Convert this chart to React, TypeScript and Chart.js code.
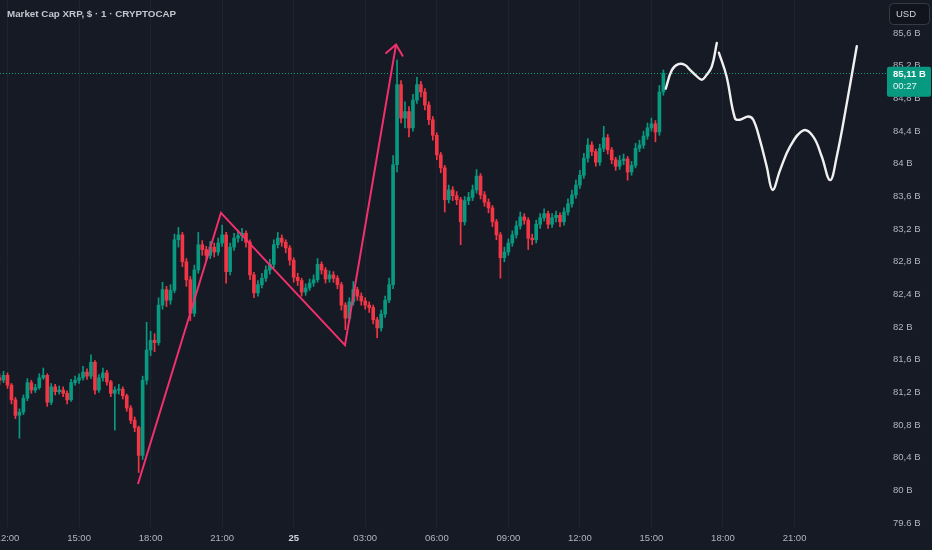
import React, { useEffect, useRef } from 'react';
import { Chart, registerables } from 'chart.js';

Chart.register(...registerables);

// ---- data (hours counted from 12:00 on the 24th) ----
const START_HOUR = -1 / 3; // first 10-minute candle at 11:40
const CANDLE_STEP = 1 / 6; // 10 minutes
const FIRST_OPEN = 81.38;

const CLOSE = [
  81.35, 81.41, 81.29, 81.11, 80.92, 80.96, 81.13, 81.32, 81.23, 81.26,
  81.38, 81.41, 81.08, 81.27, 81.21, 81.23, 81.19, 81.11, 81.32, 81.35,
  81.38, 81.45, 81.40, 81.57, 81.23, 81.38, 81.44, 81.33, 81.19, 81.23,
  81.24, 81.16, 81.01, 80.86, 80.77, 80.43, 81.35, 81.72, 81.84, 81.81,
  82.27, 82.46, 82.33, 82.45, 83.07, 83.13, 82.80, 82.58, 82.17, 82.70,
  83.01, 82.95, 82.88, 82.98, 82.92, 83.03, 83.13, 82.68, 82.98, 83.09,
  83.12, 83.15, 83.04, 82.64, 82.42, 82.52, 82.60, 82.70, 82.77, 83.01,
  83.09, 83.04, 82.97, 82.82, 82.61, 82.57, 82.43, 82.48, 82.54, 82.58,
  82.77, 82.70, 82.59, 82.64, 82.60, 82.52, 82.27, 82.11, 82.31, 82.46,
  82.38, 82.32, 82.27, 82.24, 82.09, 81.99, 82.16, 82.33, 82.52, 83.99,
  84.97, 84.56, 84.64, 84.44, 84.78, 84.97, 84.88, 84.72, 84.54, 84.35,
  84.11, 83.95, 83.56, 83.68, 83.61, 83.56, 83.29, 83.55, 83.59, 83.68,
  83.85, 83.62, 83.53, 83.46, 83.29, 83.13, 82.85, 82.92, 83.03, 83.13,
  83.24, 83.35, 83.31, 83.09, 83.07, 83.26, 83.34, 83.39, 83.26, 83.34,
  83.37, 83.29, 83.41, 83.51, 83.62, 83.74, 83.86, 84.07, 84.23, 84.15,
  84.02, 84.19, 84.32, 84.17, 84.05, 83.97, 84.04, 84.06, 83.90, 83.98,
  84.19, 84.23, 84.34, 84.44, 84.49, 84.39, 84.88, 85.11,
];

const HIGH = [
  81.43, 81.46, 81.44, 81.31, 81.14, 81.00, 81.17, 81.37, 81.35, 81.30,
  81.43, 81.50, 81.43, 81.31, 81.30, 81.28, 81.27, 81.22, 81.36, 81.40,
  81.43, 81.52, 81.49, 81.66, 81.59, 81.42, 81.50, 81.47, 81.35, 81.27,
  81.30, 81.27, 81.18, 81.04, 80.90, 80.79, 81.40, 82.06, 81.95, 81.92,
  82.36, 82.55, 82.50, 82.52, 83.14, 83.22, 83.16, 82.84, 82.62, 82.76,
  83.16, 83.06, 82.99, 83.05, 83.03, 83.09, 83.25, 83.16, 83.03, 83.15,
  83.19, 83.21, 83.18, 83.07, 82.67, 82.57, 82.66, 82.75, 82.83, 83.07,
  83.16, 83.13, 83.07, 83.00, 82.85, 82.66, 82.60, 82.53, 82.59, 82.64,
  82.84, 82.80, 82.73, 82.69, 82.68, 82.63, 82.55, 82.30, 82.36, 82.56,
  82.49, 82.42, 82.36, 82.31, 82.27, 82.12, 82.21, 82.38, 82.60, 84.10,
  85.27, 85.02, 84.76, 84.70, 84.85, 85.06, 85.01, 84.92, 84.76, 84.58,
  84.38, 84.14, 83.98, 83.74, 83.72, 83.66, 83.59, 83.60, 83.65, 83.74,
  83.93, 83.88, 83.66, 83.57, 83.49, 83.32, 83.16, 82.98, 83.08, 83.18,
  83.30, 83.41, 83.39, 83.34, 83.14, 83.31, 83.39, 83.45, 83.42, 83.39,
  83.42, 83.40, 83.46, 83.57, 83.68, 83.80, 83.92, 84.13, 84.31, 84.27,
  84.18, 84.24, 84.46, 84.36, 84.20, 84.08, 84.10, 84.12, 84.09, 84.03,
  84.25, 84.29, 84.40, 84.50, 84.56, 84.53, 84.96, 85.15,
];

const LOW = [
  81.30, 81.32, 81.25, 81.06, 80.88, 80.64, 80.93, 81.10, 81.19, 81.20,
  81.24, 81.36, 81.03, 81.05, 81.17, 81.18, 81.15, 81.06, 81.09, 81.29,
  81.31, 81.35, 81.36, 81.37, 81.18, 81.20, 81.34, 81.29, 81.15, 80.74,
  81.18, 81.12, 80.97, 80.82, 80.72, 80.22, 80.38, 81.30, 81.65, 81.70,
  81.78, 82.22, 82.25, 82.28, 82.42, 82.98, 82.74, 82.50, 82.08, 82.13,
  82.66, 82.88, 82.82, 82.84, 82.86, 82.88, 82.99, 82.54, 82.64, 82.94,
  83.04, 83.06, 82.98, 82.58, 82.36, 82.38, 82.48, 82.56, 82.65, 82.73,
  82.97, 82.99, 82.91, 82.76, 82.55, 82.51, 82.38, 82.39, 82.45, 82.50,
  82.55, 82.65, 82.54, 82.55, 82.55, 82.47, 82.21, 81.97, 82.07, 82.27,
  82.33, 82.27, 82.22, 82.18, 82.04, 81.87, 81.95, 82.12, 82.30, 82.47,
  83.90, 84.50, 84.44, 84.33, 84.40, 84.74, 84.82, 84.66, 84.48, 84.29,
  84.05, 83.89, 83.41, 83.52, 83.55, 83.50, 83.01, 83.25, 83.50, 83.55,
  83.64, 83.57, 83.48, 83.40, 83.23, 83.07, 82.60, 82.80, 82.88, 82.99,
  83.09, 83.20, 83.26, 82.95, 83.01, 83.03, 83.21, 83.30, 83.21, 83.22,
  83.29, 83.23, 83.25, 83.37, 83.47, 83.58, 83.70, 83.82, 84.02, 84.10,
  83.97, 83.98, 84.15, 84.12, 84.00, 83.92, 83.93, 83.99, 83.80, 83.86,
  83.95, 84.15, 84.19, 84.30, 84.40, 84.27, 84.35, 84.84,
];

// pink zig-zag drawing
const ZIGZAG_HOURS = [5.47, 8.95, 14.15, 16.29];
const ZIGZAG_VALUES = [80.08, 83.4, 81.78, 85.46];

// white hand-drawn projection (two strokes)
const PATH_A_HOURS = [27.6, 27.86, 28.13, 28.41, 28.62, 28.87, 29.11, 29.29, 29.53, 29.74];
const PATH_A_VALUES = [84.92, 85.15, 85.22, 85.21, 85.15, 85.08, 85.03, 85.08, 85.19, 85.48];
const PATH_B_HOURS = [29.83, 30.15, 30.5, 30.71, 31.06, 31.27, 31.55, 31.83, 32.08, 32.39, 32.81, 33.37, 33.79, 34.14, 34.49, 34.77, 35.19, 35.61];
const PATH_B_VALUES = [85.36, 85.07, 84.56, 84.54, 84.58, 84.54, 84.29, 83.97, 83.68, 83.92, 84.21, 84.41, 84.33, 84.09, 83.8, 84.09, 84.74, 85.44];

const X_MIN = -0.3145;
const X_MAX = 35.954;
const X_TICKS = [0, 3, 6, 9, 12, 15, 18, 21, 24, 27, 30, 33];
const X_TICK_LABELS = ['12:00', '15:00', '18:00', '21:00', '25', '03:00', '06:00', '09:00', '12:00', '15:00', '18:00', '21:00'];
const DAY_TICK = 12;

const Y_MIN = 79.553;
const Y_MAX = 86.006;
const Y_TICKS = [79.6, 80, 80.4, 80.8, 81.2, 81.6, 82, 82.4, 82.8, 83.2, 83.6, 84, 84.4, 84.8, 85.2, 85.6];
const Y_TICK_LABELS = ['79.6 B', '80 B', '80,4 B', '80,8 B', '81,2 B', '81,6 B', '82 B', '82,4 B', '82,8 B', '83,2 B', '83,6 B', '84 B', '84,4 B', '84,8 B', '85,2 B', '85,6 B'];

const TITLE = 'Market Cap XRP, $ · 1 · CRYPTOCAP';
const CURRENCY = 'USD';
const COUNTDOWN = '00:27';
const LAST_PRICE = CLOSE[CLOSE.length - 1];
const LAST_PRICE_LABEL = '85,11 B';

// ---- styles ----
const BG = '#161a25';
const UP = '#089981';
const DOWN = '#f23645';
const PINK = '#f2306c';
const WHITE = '#f0f0f0';
const GRID = '#1f2330';
const TEXT = '#b2b5be';
const FONT = "'Liberation Sans', Arial, sans-serif";
const AXIS_SIZE = 9.5;

export default function App() {
  const canvasRef = useRef<HTMLCanvasElement | null>(null);

  useEffect(() => {
    const canvas = canvasRef.current;
    if (!canvas) return;

    const opens = CLOSE.map((c, i) => (i === 0 ? FIRST_OPEN : CLOSE[i - 1]));
    const hours = CLOSE.map((_, i) => START_HOUR + i * CANDLE_STEP);
    const colors = CLOSE.map((c, i) => (c >= opens[i] ? UP : DOWN));
    const bodies = CLOSE.map((c, i) => ({ x: hours[i], y: [opens[i], c] }));
    const wicks = CLOSE.map((_, i) => ({ x: hours[i], y: [LOW[i], HIGH[i]] }));
    const zigzag = ZIGZAG_HOURS.map((h, i) => ({ x: h, y: ZIGZAG_VALUES[i] }));
    const pathA = PATH_A_HOURS.map((h, i) => ({ x: h, y: PATH_A_VALUES[i] }));
    const pathB = PATH_B_HOURS.map((h, i) => ({ x: h, y: PATH_B_VALUES[i] }));

    const overlay = {
      id: 'tvOverlay',
      beforeDatasetsDraw(chart: any) {
        const { ctx, chartArea } = chart;
        const y = chart.scales.y.getPixelForValue(LAST_PRICE);
        ctx.save();
        ctx.strokeStyle = UP;
        ctx.lineWidth = 1;
        ctx.setLineDash([1, 2]);
        ctx.beginPath();
        ctx.moveTo(chartArea.left, Math.round(y) + 0.5);
        ctx.lineTo(chartArea.right + 22, Math.round(y) + 0.5);
        ctx.stroke();
        ctx.restore();
      },
      afterDatasetsDraw(chart: any) {
        const { ctx } = chart;
        const meta = chart.getDatasetMeta(2);
        const pts = meta.data;
        if (pts.length < 2) return;
        const a = pts[pts.length - 2];
        const b = pts[pts.length - 1];
        const ang = Math.atan2(b.y - a.y, b.x - a.x);
        const len = 13;
        const spread = (40 * Math.PI) / 180;
        ctx.save();
        ctx.strokeStyle = PINK;
        ctx.lineWidth = 2;
        ctx.lineCap = 'round';
        ctx.beginPath();
        ctx.moveTo(b.x - len * Math.cos(ang - spread), b.y - len * Math.sin(ang - spread));
        ctx.lineTo(b.x, b.y);
        ctx.lineTo(b.x - len * Math.cos(ang + spread), b.y - len * Math.sin(ang + spread));
        ctx.stroke();
        ctx.restore();
      },
      afterDraw(chart: any) {
        const { ctx } = chart;
        ctx.save();
        // title
        ctx.fillStyle = '#c3c6ce';
        ctx.font = `bold 9.8px ${FONT}`;
        ctx.textBaseline = 'middle';
        ctx.textAlign = 'left';
        ctx.fillText(TITLE, 7, 14);

        // currency box
        ctx.beginPath();
        ctx.roundRect(889.5, 3.5, 40, 21, 4);
        ctx.fillStyle = '#11141c';
        ctx.fill();
        ctx.strokeStyle = '#363a45';
        ctx.lineWidth = 1;
        ctx.stroke();
        ctx.fillStyle = '#d1d4dc';
        ctx.font = `${AXIS_SIZE}px ${FONT}`;
        ctx.textAlign = 'center';
        ctx.fillText(CURRENCY, 906, 14.5);

        // last price label
        const py = chart.scales.y.getPixelForValue(LAST_PRICE);
        ctx.beginPath();
        ctx.roundRect(887, py - 6.5, 44, 30, 2);
        ctx.fillStyle = UP;
        ctx.fill();
        ctx.fillStyle = '#ffffff';
        ctx.textAlign = 'left';
        ctx.font = `bold ${AXIS_SIZE}px ${FONT}`;
        ctx.fillText(LAST_PRICE_LABEL, 893, py + 1);
        ctx.font = `${AXIS_SIZE}px ${FONT}`;
        ctx.fillStyle = '#e8f5f2';
        ctx.fillText(COUNTDOWN, 893, py + 13.5);
        ctx.restore();
      },
    };

    const chart = new Chart(canvas, {
      type: 'bar',
      data: {
        datasets: [
          {
            type: 'bar',
            data: wicks as any,
            backgroundColor: colors,
            barThickness: 1,
            grouped: false,
            borderWidth: 0,
            order: 5,
          } as any,
          {
            type: 'bar',
            data: bodies as any,
            backgroundColor: colors,
            barThickness: 3,
            minBarLength: 1,
            grouped: false,
            borderWidth: 0,
            order: 4,
          } as any,
          {
            type: 'line',
            data: zigzag as any,
            borderColor: PINK,
            borderWidth: 2,
            pointRadius: 0,
            tension: 0,
            order: 2,
          } as any,
          {
            type: 'line',
            data: pathA as any,
            borderColor: WHITE,
            borderWidth: 2.4,
            pointRadius: 0,
            tension: 0.4,
            borderCapStyle: 'round',
            order: 1,
          } as any,
          {
            type: 'line',
            data: pathB as any,
            borderColor: WHITE,
            borderWidth: 2.4,
            pointRadius: 0,
            tension: 0.4,
            borderCapStyle: 'round',
            order: 1,
          } as any,
        ],
      },
      options: {
        responsive: false,
        animation: false,
        events: [],
        layout: { padding: 0 },
        plugins: {
          legend: { display: false },
          tooltip: { enabled: false },
          title: { display: false },
        },
        scales: {
          x: {
            type: 'linear',
            min: X_MIN,
            max: X_MAX,
            offset: false,
            grid: { color: GRID, drawTicks: false, offset: false },
            border: { display: false },
            afterBuildTicks: (s: any) => {
              s.ticks = X_TICKS.map((v) => ({ value: v }));
            },
            afterFit: (s: any) => {
              s.height = 23;
              s.paddingLeft = 0;
              s.paddingRight = 0;
            },
            ticks: {
              autoSkip: false,
              maxRotation: 0,
              padding: 6,
              color: (c: any) => (c.tick && c.tick.value === DAY_TICK ? '#d1d4dc' : TEXT),
              font: (c: any) => ({
                family: FONT,
                size: AXIS_SIZE,
                weight: c.tick && c.tick.value === DAY_TICK ? 'bold' : 'normal',
              }),
              callback: (_v: any, i: number) => X_TICK_LABELS[i],
            },
          },
          y: {
            type: 'linear',
            position: 'right',
            min: Y_MIN,
            max: Y_MAX,
            grid: { display: false, drawTicks: false },
            border: { display: false },
            afterBuildTicks: (s: any) => {
              s.ticks = Y_TICKS.map((v) => ({ value: v }));
            },
            afterFit: (s: any) => {
              s.width = 67;
              s.paddingTop = 0;
              s.paddingBottom = 0;
            },
            ticks: {
              padding: 28,
              color: TEXT,
              font: { family: FONT, size: AXIS_SIZE },
              callback: (_v: any, i: number) => Y_TICK_LABELS[i],
            },
          },
        },
      } as any,
      plugins: [overlay as any],
    });

    return () => chart.destroy();
  }, []);

  return (
    <div style={{ position: 'fixed', left: 0, top: 0, width: 932, height: 550, background: BG }}>
      <canvas ref={canvasRef} width={932} height={550} style={{ display: 'block', width: 932, height: 550 }} />
    </div>
  );
}
